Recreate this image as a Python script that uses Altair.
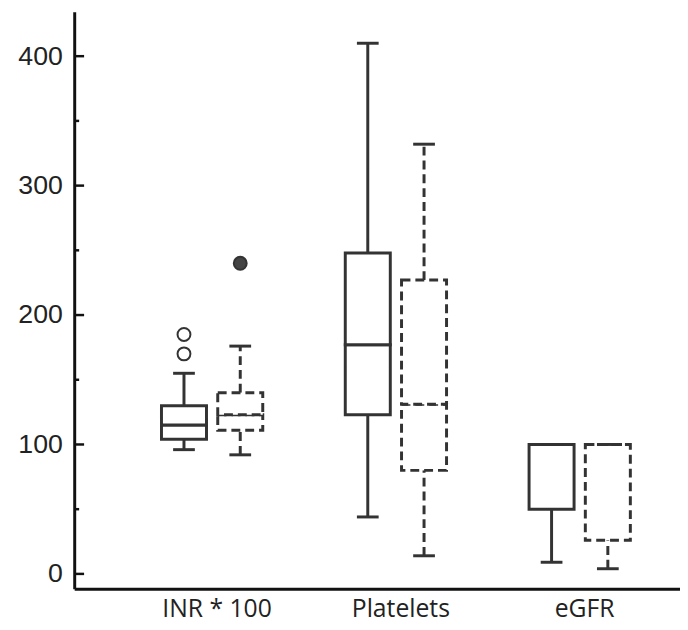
import altair as alt
import pandas as pd

# ---- data ----
categories = ["INR * 100", "Platelets", "eGFR"]
series_order = ["solid", "dashed"]

box_cat = ["INR * 100", "INR * 100", "Platelets", "Platelets", "eGFR", "eGFR"]
box_ser = ["solid", "dashed", "solid", "dashed", "solid", "dashed"]
whisk_lo = [96, 92, 44, 14, 9, 4]
q1 = [104, 111, 123, 80, 50, 26]
median = [115, 123, 177, 131, 100, 100]
q3 = [130, 140, 248, 227, 100, 100]
whisk_hi = [155, 176, 410, 332, 100, 100]

out_cat = ["INR * 100", "INR * 100", "INR * 100"]
out_ser = ["solid", "solid", "dashed"]
out_val = [170, 185, 240]

major_ticks = [0, 100, 200, 300, 400]
minor_ticks = [50, 150, 250, 350]

boxes = pd.DataFrame({"cat": box_cat, "ser": box_ser, "lo": whisk_lo, "q1": q1,
                      "med": median, "q3": q3, "hi": whisk_hi})
outs = pd.DataFrame({"cat": out_cat, "ser": out_ser, "val": out_val})
major_df = pd.DataFrame({"major": major_ticks})
minor_df = pd.DataFrame({"minor": minor_ticks})

INK = "#333333"
AXIS = "#111111"
W = 613
H = 584

yscale = alt.Scale(domain=[-11.5, 434.4], nice=False, zero=False)

x_enc = alt.X("cat:N", sort=categories, title=None,
              scale=alt.Scale(domain=categories, paddingInner=0.4, paddingOuter=0.348, align=0.647),
              axis=alt.Axis(orient="bottom", ticks=False, grid=False, domainColor=AXIS,
                            domainWidth=3, labelFont="Open Sans", labelFontSize=25,
                            labelColor="#222222", labelPadding=8, labelOffset=5,
                            labelAngle=0))
xo_enc = alt.XOffset("ser:N", sort=series_order,
                     scale=alt.Scale(domain=series_order, paddingInner=0.2, paddingOuter=0.08))
dash_enc = alt.StrokeDash("ser:N", legend=None,
                          scale=alt.Scale(domain=series_order, range=[[1, 0], [9, 5]]))

main_axis = alt.Axis(orient="left", ticks=False, grid=False, domain=True,
                     domainColor=AXIS, domainWidth=3, labelFont="Liberation Sans",
                     labelFontSize=27, labelColor="#222222", labelPadding=12,
                     values=major_ticks, title=None)

base = alt.Chart(boxes)

whisk_low = base.mark_rule(strokeWidth=3, color=INK).encode(
    x=x_enc, xOffset=xo_enc,
    y=alt.Y("lo:Q", scale=yscale, axis=main_axis), y2="q1:Q",
    strokeDash=dash_enc)
whisk_up = base.mark_rule(strokeWidth=3, color=INK).encode(
    x=x_enc, xOffset=xo_enc,
    y=alt.Y("q3:Q", scale=yscale), y2="hi:Q",
    strokeDash=dash_enc)

box_low = base.mark_bar(fill="white", stroke=INK, strokeWidth=3).encode(
    x=x_enc, xOffset=xo_enc,
    y=alt.Y("q1:Q", scale=yscale), y2="med:Q",
    strokeDash=dash_enc)
box_up = base.mark_bar(fill="white", stroke=INK, strokeWidth=3).encode(
    x=x_enc, xOffset=xo_enc,
    y=alt.Y("med:Q", scale=yscale), y2="q3:Q",
    strokeDash=dash_enc)

cap_low = base.mark_tick(thickness=3, size=22, color=INK, opacity=1).encode(
    x=x_enc, xOffset=xo_enc,
    y=alt.Y("lo:Q", scale=yscale))
cap_up = base.mark_tick(thickness=3, size=22, color=INK, opacity=1).encode(
    x=x_enc, xOffset=xo_enc,
    y=alt.Y("hi:Q", scale=yscale))

points = alt.Chart(outs).mark_point(shape="circle", size=170, strokeWidth=2,
                                    stroke=INK, opacity=1, fillOpacity=1).encode(
    x=x_enc, xOffset=xo_enc,
    y=alt.Y("val:Q", scale=yscale),
    fill=alt.Fill("ser:N", legend=None,
                  scale=alt.Scale(domain=series_order, range=["white", "#444444"])))

# inward-pointing axis ticks (axis furniture)
major_tk = alt.Chart(major_df).mark_rule(strokeWidth=2.5, color=AXIS).encode(
    y=alt.Y("major:Q", scale=yscale), x=alt.value(0), x2=alt.value(10))
minor_tk = alt.Chart(minor_df).mark_rule(strokeWidth=2.5, color=AXIS).encode(
    y=alt.Y("minor:Q", scale=yscale), x=alt.value(0), x2=alt.value(5))

chart = alt.layer(whisk_low, whisk_up, box_low, box_up, cap_low, cap_up, points,
                  major_tk, minor_tk).properties(
    width=W, height=H,
    autosize=alt.AutoSizeParams(type="none"),
    padding={"left": 67, "top": 0, "right": 0, "bottom": 38},
    background="white",
).configure_view(stroke=None)

chart.save("out.html", embed_options={"renderer": "svg", "actions": False})
